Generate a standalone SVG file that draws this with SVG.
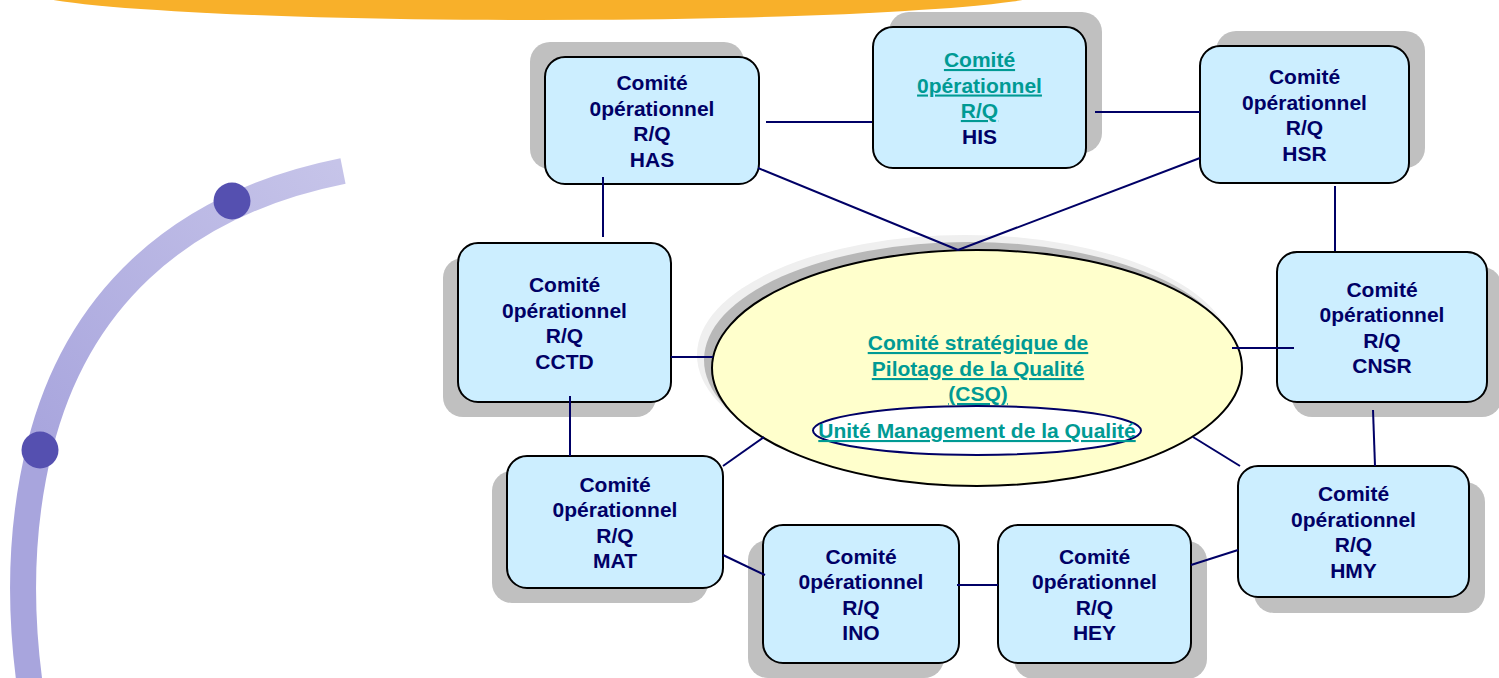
<svg xmlns="http://www.w3.org/2000/svg" width="1499" height="678" viewBox="0 0 1499 678">
<style>
.shadow{fill:#c0c0c0}
.box{fill:#cceeff;stroke:#000;stroke-width:2}
.t{font-family:"Liberation Sans",Arial,sans-serif;font-weight:bold;font-size:21px;text-anchor:middle;fill:#000066}
.lk{fill:#009a94;text-decoration:underline}
.conn line{stroke:#000066;stroke-width:2}
</style>
<defs>
<linearGradient id="arcg" gradientUnits="userSpaceOnUse" x1="343" y1="171" x2="40" y2="450">
<stop offset="0" stop-color="#c6c4e9"/>
<stop offset="1" stop-color="#a8a5dd"/>
</linearGradient>
</defs>
<rect width="1499" height="678" fill="#fff"/>
<g id="decor">
<ellipse cx="538" cy="-10" rx="514" ry="30" fill="#f8b02a"/>
<path d="M343,171 C173,205 75,306 40,446 C20,526 18,610 32,700" fill="none" stroke="url(#arcg)" stroke-width="26"/>
<circle cx="232" cy="201" r="18.5" fill="#5550b0"/>
<circle cx="40" cy="450" r="18.5" fill="#5550b0"/>
</g>
<g id="csq">
<ellipse cx="965" cy="355" rx="268" ry="120" fill="#efefef"/>
<ellipse cx="969" cy="360" rx="265" ry="118" fill="#b8b8b8"/>
<ellipse cx="977" cy="368" rx="265" ry="118" fill="#ffffcc" stroke="#000" stroke-width="2"/>
<text class="t lk" x="978" y="350">Comité stratégique de</text>
<text class="t lk" x="978" y="376">Pilotage de la Qualité</text>
<text class="t lk" x="978" y="401">(CSQ)</text>
<ellipse cx="977" cy="430.5" rx="164" ry="24.5" fill="#fff" stroke="#000066" stroke-width="2"/>
<text class="t lk" x="977" y="438">Unité Management de la Qualité</text>
</g>
<g id="has">
<rect class="shadow" x="530" y="42" width="214" height="127" rx="20"/>
<rect class="box" x="545" y="57" width="214" height="127" rx="20"/>
<text class="t" x="652" y="90">Comité</text><text class="t" x="652" y="115.5">0pérationnel</text><text class="t" x="652" y="141">R/Q</text><text class="t" x="652" y="166.5">HAS</text>
</g>
<g id="his">
<rect class="shadow" x="889" y="12" width="213" height="141" rx="20"/>
<rect class="box" x="873" y="27" width="213" height="141" rx="20"/>
<text class="t lk" x="979.5" y="67">Comité</text><text class="t lk" x="979.5" y="92.5">0pérationnel</text><text class="t lk" x="979.5" y="118">R/Q</text><text class="t" x="979.5" y="143.5">HIS</text>
</g>
<g id="hsr">
<rect class="shadow" x="1216" y="31" width="209" height="137" rx="20"/>
<rect class="box" x="1200" y="46" width="209" height="137" rx="20"/>
<text class="t" x="1304.5" y="84">Comité</text><text class="t" x="1304.5" y="109.5">0pérationnel</text><text class="t" x="1304.5" y="135">R/Q</text><text class="t" x="1304.5" y="160.5">HSR</text>
</g>
<g id="cctd">
<rect class="shadow" x="443" y="258" width="213" height="159" rx="20"/>
<rect class="box" x="458" y="243" width="213" height="159" rx="20"/>
<text class="t" x="564.5" y="292">Comité</text><text class="t" x="564.5" y="317.5">0pérationnel</text><text class="t" x="564.5" y="343">R/Q</text><text class="t" x="564.5" y="368.5">CCTD</text>
</g>
<g id="cnsr">
<rect class="shadow" x="1292" y="267" width="210" height="150" rx="20"/>
<rect class="box" x="1277" y="252" width="210" height="150" rx="20"/>
<text class="t" x="1382" y="296.5">Comité</text><text class="t" x="1382" y="322">0pérationnel</text><text class="t" x="1382" y="347.5">R/Q</text><text class="t" x="1382" y="373">CNSR</text>
</g>
<g id="mat">
<rect class="shadow" x="492" y="471" width="216" height="132" rx="20"/>
<rect class="box" x="507" y="456" width="216" height="132" rx="20"/>
<text class="t" x="615" y="491.5">Comité</text><text class="t" x="615" y="517">0pérationnel</text><text class="t" x="615" y="542.5">R/Q</text><text class="t" x="615" y="568">MAT</text>
</g>
<g id="ino">
<rect class="shadow" x="748" y="540" width="196" height="138" rx="20"/>
<rect class="box" x="763" y="525" width="196" height="138" rx="20"/>
<text class="t" x="861" y="563.5">Comité</text><text class="t" x="861" y="589">0pérationnel</text><text class="t" x="861" y="614.5">R/Q</text><text class="t" x="861" y="640">INO</text>
</g>
<g id="hey">
<rect class="shadow" x="1014" y="541" width="193" height="138" rx="20"/>
<rect class="box" x="998" y="525" width="193" height="138" rx="20"/>
<text class="t" x="1094.5" y="563.5">Comité</text><text class="t" x="1094.5" y="589">0pérationnel</text><text class="t" x="1094.5" y="614.5">R/Q</text><text class="t" x="1094.5" y="640">HEY</text>
</g>
<g id="hmy">
<rect class="shadow" x="1254" y="482" width="231" height="131" rx="20"/>
<rect class="box" x="1238" y="466" width="231" height="131" rx="20"/>
<text class="t" x="1353.5" y="501">Comité</text><text class="t" x="1353.5" y="526.5">0pérationnel</text><text class="t" x="1353.5" y="552">R/Q</text><text class="t" x="1353.5" y="577.5">HMY</text>
</g>
<g id="connectors" class="conn">
<line x1="766" y1="122" x2="872" y2="122"/>
<line x1="1095" y1="112" x2="1200" y2="112"/>
<line x1="758" y1="168" x2="958" y2="250"/>
<line x1="1200" y1="158" x2="958" y2="250"/>
<line x1="603" y1="177" x2="603" y2="237"/>
<line x1="1335" y1="186" x2="1335" y2="251"/>
<line x1="671" y1="357" x2="713" y2="357"/>
<line x1="1232" y1="348" x2="1294" y2="348"/>
<line x1="570" y1="396" x2="570" y2="456"/>
<line x1="1373" y1="410" x2="1375" y2="466"/>
<line x1="723" y1="466" x2="764" y2="437"/>
<line x1="1193" y1="437" x2="1240" y2="466"/>
<line x1="723" y1="555" x2="765" y2="575"/>
<line x1="957" y1="585" x2="998" y2="585"/>
<line x1="1191" y1="565" x2="1238" y2="550"/>
</g>
</svg>
